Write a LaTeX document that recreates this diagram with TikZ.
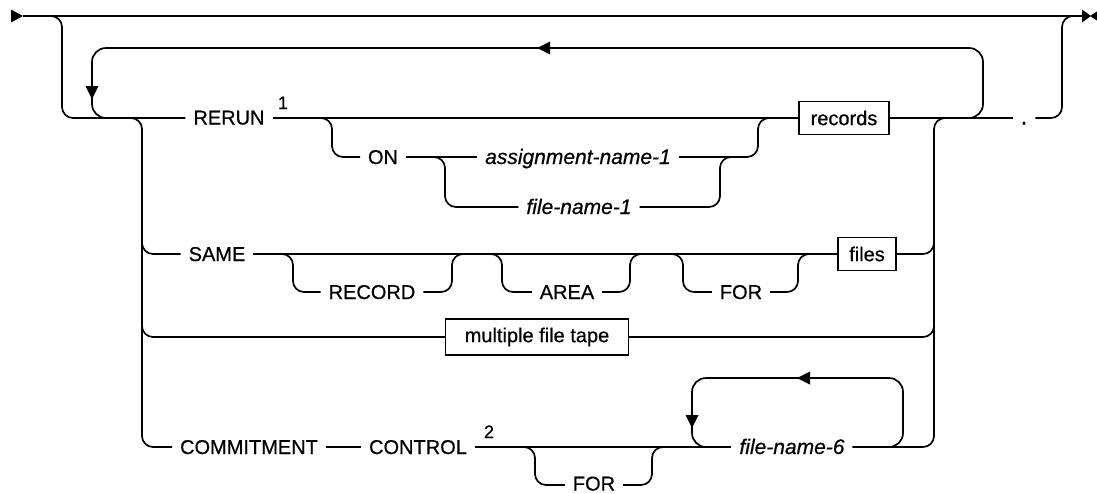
\documentclass[tikz,border=0pt]{standalone}
\usepackage{fontspec}
\setmainfont{Liberation Sans}[FakeBold=0.6]
\begin{document}
\begin{tikzpicture}[x=1pt,y=-1pt,
  rail/.style={line width=1.7pt, rounded corners=11pt},
  looprail/.style={line width=1.7pt, rounded corners=14pt},
  kw/.style={font=\fontsize{20}{24}\selectfont, inner sep=0pt, outer xsep=8pt, outer ysep=0pt, anchor=base},
  var/.style={kw, font=\fontsize{21}{24}\selectfont\itshape},
  supn/.style={font=\fontsize{18}{20}\selectfont, inner sep=0pt, anchor=base},
  boxn/.style={draw, line width=1.3pt, inner sep=0pt, minimum height=33pt, anchor=center, font=\fontsize{20}{24}\selectfont},
  tip/.style={fill=black}]
\useasboundingbox (0,0) rectangle (1097,493);
\clip (0,0) rectangle (1097,493);
% row coordinates
\coordinate (r1) at (0,118);
\coordinate (r1b) at (0,157);
\coordinate (r1c) at (0,207);
\coordinate (r2) at (0,254);
\coordinate (r2b) at (0,292);
\coordinate (r3) at (0,337);
\coordinate (r4) at (0,447);
\coordinate (r4b) at (0,485);
% texts
\node[kw] (rerun) at (229,124.5) {RERUN};
\node[supn] (sup1) at (283,109) {1};
\node[kw] (on) at (383,164) {ON};
\node[var] (asg) at (578,164) {assignment-name-1};
\node[var] (fn1) at (579,214) {file-name-1};
\node[boxn, minimum width=90pt] (records) at (844,118) {records};
\node[kw, font=\fontsize{24}{24}\selectfont] (dot) at (1024,124.5) {.};
\node[kw] (same) at (217,261) {SAME};
\node[kw] (record) at (372,299) {RECORD};
\node[kw] (area) at (567,299) {AREA};
\node[kw] (forA) at (741,299) {FOR};
\node[boxn, minimum width=58pt] (files) at (867,254) {files};
\node[boxn, minimum width=183pt, minimum height=36pt] (mft) at (537,337) {multiple file tape};
\node[kw] (commit) at (249,454) {COMMITMENT};
\node[kw] (control) at (418,454) {CONTROL};
\node[supn] (sup2) at (489,438) {2};
\node[kw] (forB) at (594,490.5) {FOR};
\node[var] (fn6) at (792,454) {file-name-6};
% top line and outer bypass
\draw[line width=1.7pt] (23,16) -- (1082,16);
\draw[rail] (40,16) -- (62,16) -- (62,118) -- (rerun.west |- r1);
\draw[rail] (dot.east |- r1) -- (1062,118) -- (1062,16) -- (1082,16);
% repeat loop
\draw[looprail] (543,48) -- (92,48) -- (92,118) -- (130,118);
\draw[looprail] (950,118) -- (983,118) -- (983,48) -- (543,48);
% main choice left
\draw[rail] (120,118) -- (142,118) -- (142,447) -- (commit.west |- r4);
\draw[rail] (142,200) -- (142,254) -- (same.west |- r2);
\draw[rail] (142,300) -- (142,337) -- (mft.west);
% main choice right
\draw[rail] (fn6.east |- r4) -- (934,447) -- (934,118) -- (955,118);
\draw[rail] (files.east) -- (934,254) -- (934,230);
\draw[rail] (mft.east) -- (934,337) -- (934,310);
% RERUN row
\draw[line width=1.7pt] (rerun.east |- r1) -- (records.west);
\draw[line width=1.7pt] (records.east) -- (dot.west |- r1);
\draw[rail] (310,118) -- (332,118) -- (332,157) -- (on.west |- r1b);
\draw[rail] (on.east |- r1b) -- (445,157) -- (445,207) -- (fn1.west |- r1c);
\draw[line width=1.7pt] (on.east |- r1b) -- (asg.west |- r1b);
\draw[rail] (asg.east |- r1b) -- (758,157) -- (758,118) -- (780,118);
\draw[rail] (fn1.east |- r1c) -- (720,207) -- (720,157) -- (740,157);
% SAME row
\draw[line width=1.7pt] (same.east |- r2) -- (files.west);
\draw[rail] (270,254) -- (293,254) -- (293,292) -- (record.west |- r2b);
\draw[rail] (record.east |- r2b) -- (452,292) -- (452,254) -- (470,254);
\draw[rail] (480,254) -- (502,254) -- (502,292) -- (area.west |- r2b);
\draw[rail] (area.east |- r2b) -- (630,292) -- (630,254) -- (650,254);
\draw[rail] (660,254) -- (683,254) -- (683,292) -- (forA.west |- r2b);
\draw[rail] (forA.east |- r2b) -- (798,292) -- (798,254) -- (815,254);
% COMMITMENT row
\draw[line width=1.7pt] (commit.east |- r4) -- (control.west |- r4);
\draw[line width=1.7pt] (control.east |- r4) -- (fn6.west |- r4);
\draw[rail] (515,447) -- (535,447) -- (535,485) -- (forB.west |- r4b);
\draw[rail] (forB.east |- r4b) -- (652,485) -- (652,447) -- (670,447);
\draw[looprail] (803,378) -- (692,378) -- (692,447) -- (720,447);
\draw[looprail] (fn6.east |- r4) -- (903,447) -- (903,378) -- (803,378);
% arrowheads
\fill[tip] (11,9.5) -- (23,16) -- (11,22.5) -- cycle;
\fill[tip] (1082,9.5) -- (1091,16) -- (1082,22.5) -- cycle;
\fill[tip] (1100,9.5) -- (1090,16) -- (1100,22.5) -- cycle;
\fill[tip] (537,48) -- (550,41.5) -- (550,54.5) -- cycle;
\fill[tip] (92,99) -- (85.5,86) -- (98.5,86) -- cycle;
\fill[tip] (797,378) -- (810,371.5) -- (810,384.5) -- cycle;
\fill[tip] (692,428) -- (685.5,415) -- (698.5,415) -- cycle;
\end{tikzpicture}
\end{document}
